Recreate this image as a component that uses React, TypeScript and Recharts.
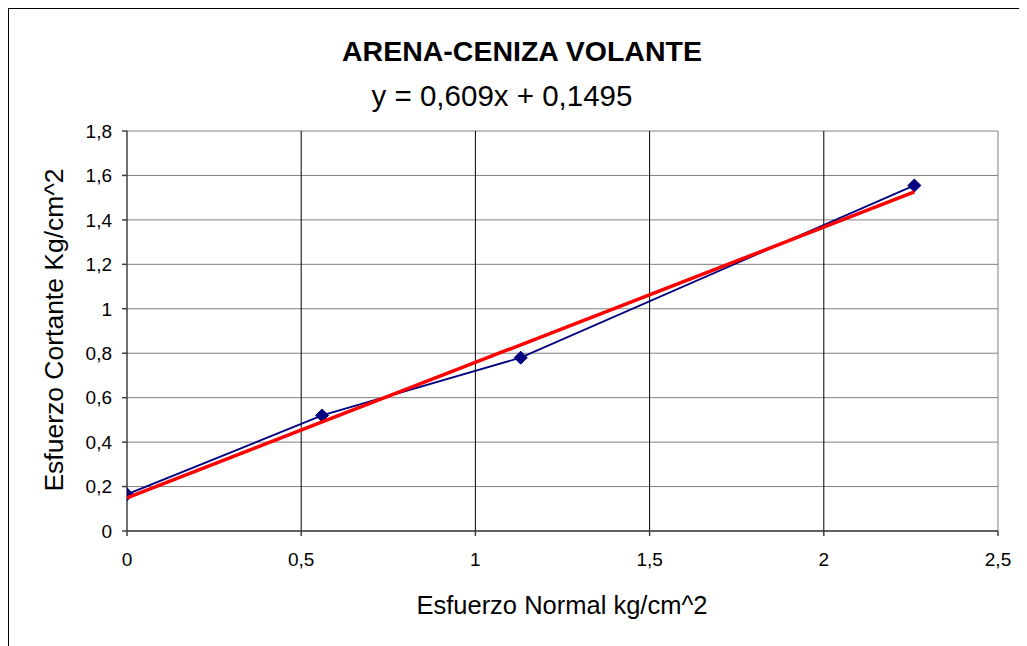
import React from "react";
import {
  ComposedChart,
  Scatter,
  XAxis,
  YAxis,
  CartesianGrid,
  ReferenceLine,
} from "recharts";

const normalStress = [0, 0.56, 1.13, 2.26];
const shearStress = [0.165, 0.52, 0.78, 1.555];
const trendX = [0, 2.26];
const trendY = [0.1495, 1.526];
const xTicks = [0, 0.5, 1, 1.5, 2, 2.5];
const yTicks = [0, 0.2, 0.4, 0.6, 0.8, 1, 1.2, 1.4, 1.6, 1.8];
const verticalGrid = [0.5, 1, 1.5, 2];
const title = "ARENA-CENIZA VOLANTE";
const equation = "y = 0,609x + 0,1495";
const xLabel = "Esfuerzo Normal kg/cm^2";
const yLabel = "Esfuerzo Cortante Kg/cm^2";

const measured = normalStress.map((x, i) => ({ x, y: shearStress[i] }));
const trend = trendX.map((x, i) => ({ x, y: trendY[i] }));

const fmt = (v: number) => String(v).replace(".", ",");
const FONT = "'Liberation Sans', Arial, sans-serif";
const TICK_FS = 19;

const XTick = (props: any) => {
  const { x, y, payload } = props;
  return (
    <text x={x} y={y} dy="0.71em" textAnchor="middle" fontFamily={FONT} fontSize={TICK_FS} fill="#000">
      {fmt(payload.value)}
    </text>
  );
};

const YTick = (props: any) => {
  const { x, y, payload } = props;
  return (
    <text x={x} y={y} dy="0.355em" textAnchor="end" fontFamily={FONT} fontSize={TICK_FS} fill="#000">
      {fmt(payload.value)}
    </text>
  );
};

const Diamond = (props: any) => {
  const { cx, cy } = props;
  if (cx == null || cy == null) return null;
  const r = 6.5;
  return (
    <polygon
      points={`${cx},${cy - r} ${cx + r},${cy} ${cx},${cy + r} ${cx - r},${cy}`}
      fill="#000080"
      stroke="#000080"
    />
  );
};

const NoDot = () => null;

export default function App() {
  return (
    <div
      style={{
        position: "relative",
        width: 1019,
        height: 638,
        boxSizing: "border-box",
        borderTop: "1px solid #000",
        borderLeft: "1px solid #000",
        background: "#fff",
        fontFamily: FONT,
      }}
    >
      <ComposedChart
        width={1018}
        height={637}
        margin={{ top: 122, right: 29, bottom: 0, left: 0 }}
      >
        <CartesianGrid vertical={false} stroke="#808080" strokeWidth={1} />
        {verticalGrid.map((v) => (
          <ReferenceLine key={v} x={v} stroke="#000" strokeWidth={1} />
        ))}
        <ReferenceLine x={2.5} stroke="#808080" strokeWidth={1} />
        <XAxis
          type="number"
          dataKey="x"
          domain={[0, 2.5]}
          ticks={xTicks}
          height={115}
          tickSize={5}
          tickMargin={17}
          stroke="#404040"
          strokeWidth={1.5}
          tick={<XTick />}
          allowDataOverflow
        />
        <YAxis
          type="number"
          dataKey="y"
          domain={[0, 1.8]}
          ticks={yTicks}
          width={118}
          tickSize={5}
          tickMargin={10}
          stroke="#404040"
          strokeWidth={1.5}
          tick={<YTick />}
          allowDataOverflow
        />
        <Scatter
          data={measured}
          line={{ stroke: "#000080", strokeWidth: 1.8 }}
          lineType="joint"
          shape={<Diamond />}
          isAnimationActive={false}
        />
        <Scatter
          data={trend}
          line={{ stroke: "#FF0000", strokeWidth: 3.5 }}
          lineType="joint"
          shape={<NoDot />}
          isAnimationActive={false}
        />
      </ComposedChart>
      <svg
        width={1027}
        height={646}
        style={{ position: "absolute", left: -9, top: -9, pointerEvents: "none" }}
      >
        <text x={522} y={61} textAnchor="middle" fontFamily={FONT} fontWeight="bold" fontSize={28.5} fill="#000">
          {title}
        </text>
        <text x={502} y={106} textAnchor="middle" fontFamily={FONT} fontSize={29.5} fill="#000">
          {equation}
        </text>
        <text x={562} y={614} textAnchor="middle" fontFamily={FONT} fontSize={25.5} fill="#000">
          {xLabel}
        </text>
        <text
          transform="translate(63,330) rotate(-90)"
          textAnchor="middle"
          fontFamily={FONT}
          fontSize={26.5}
          fill="#000"
        >
          {yLabel}
        </text>
      </svg>
    </div>
  );
}
